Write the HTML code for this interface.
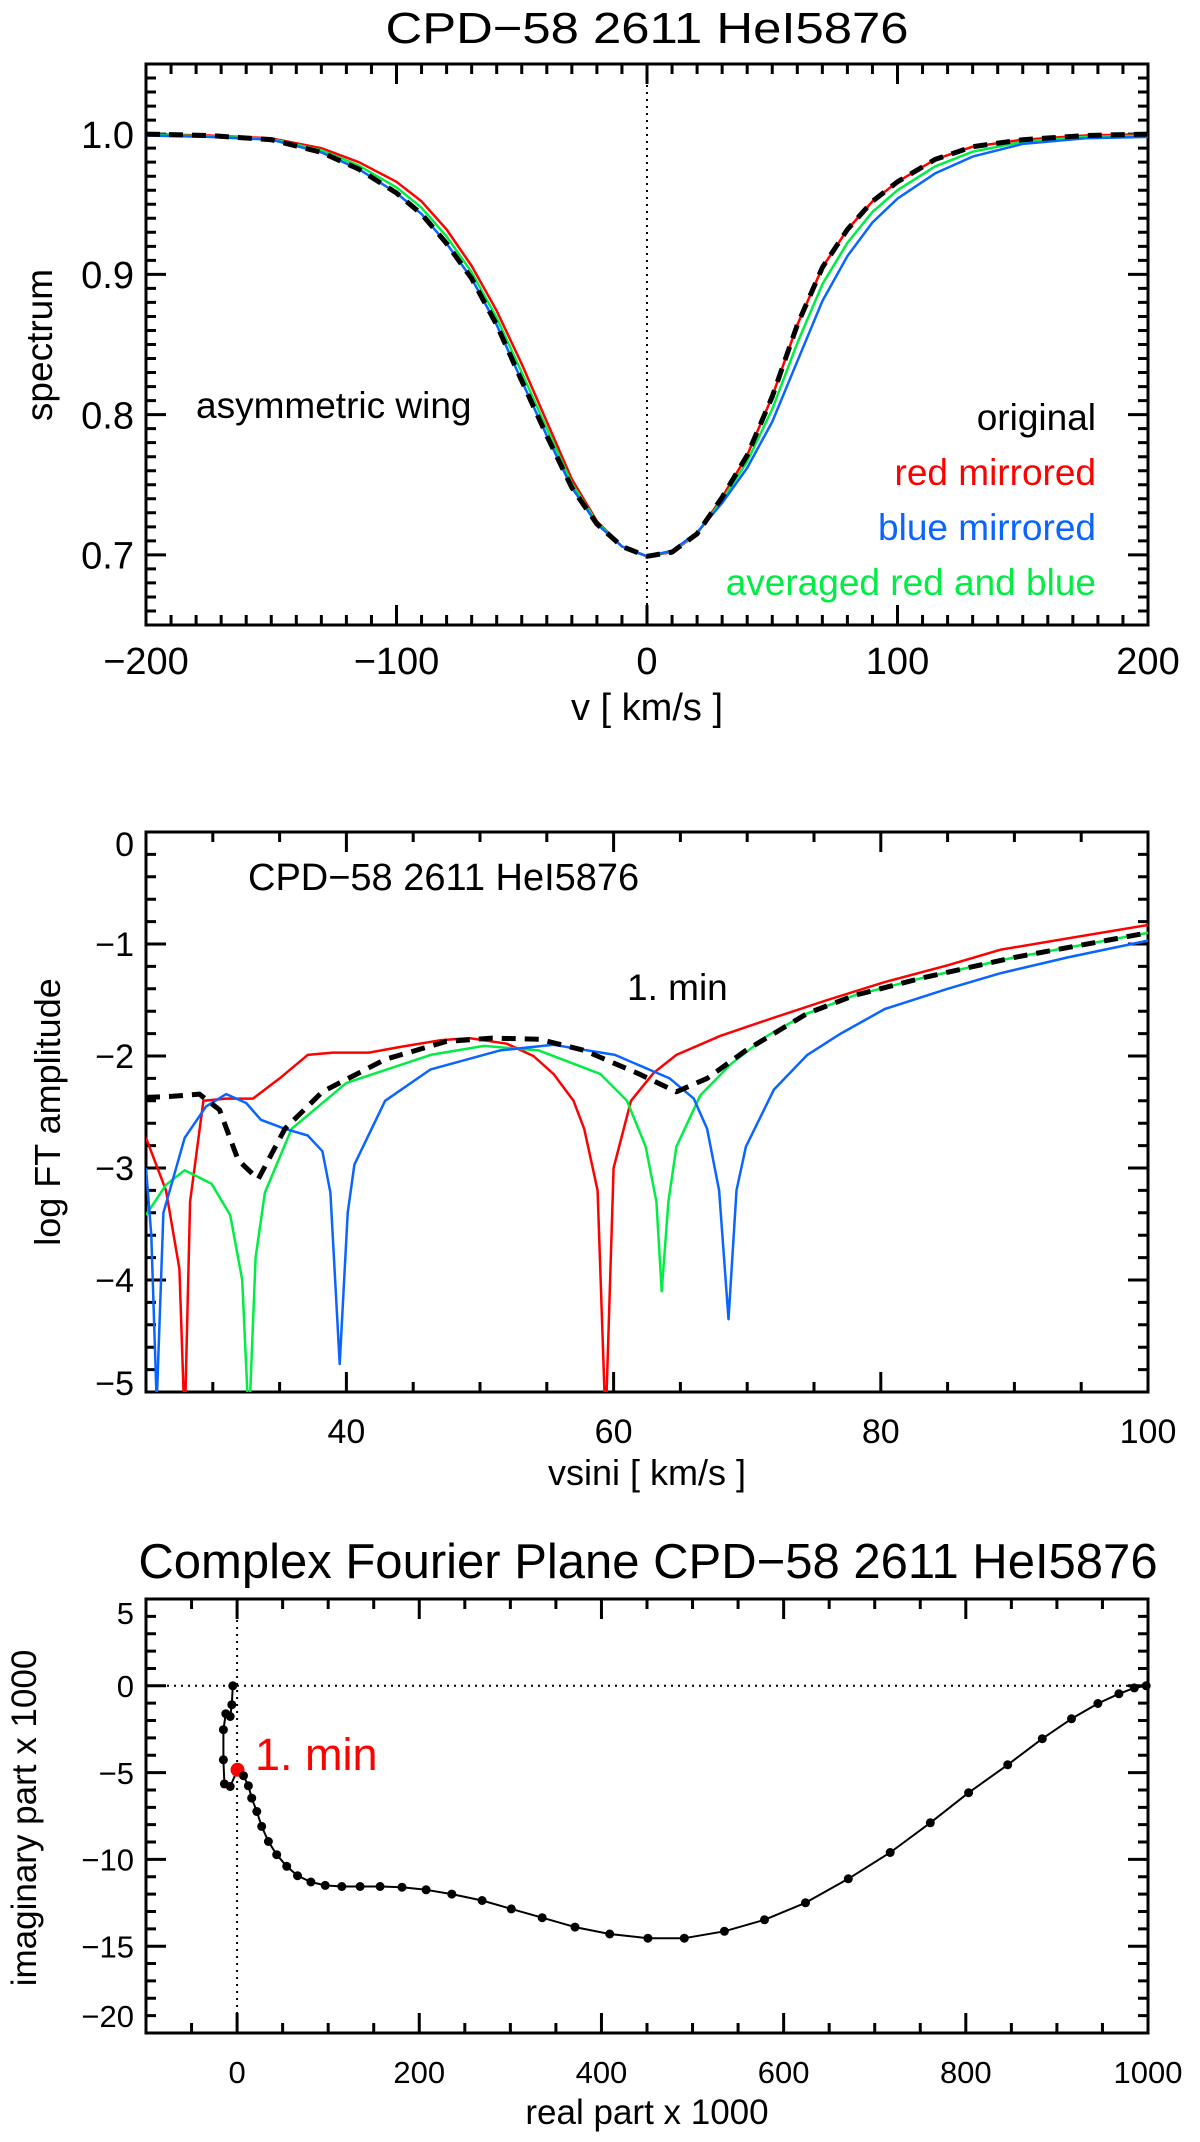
<!DOCTYPE html>
<html><head><meta charset="utf-8"><style>
html,body{margin:0;padding:0;background:#fff;}
svg{display:block;font-family:"Liberation Sans",Arial,sans-serif;}
</style></head><body>
<svg id="fig" width="1200" height="2142" viewBox="0 0 1200 2142" xmlns="http://www.w3.org/2000/svg">
<rect width="1200" height="2142" fill="#fff"/>
</svg>
<script>
// ---- Panel 1 data (spectrum) ----
const p1V = [-200,-175,-150,-130,-115,-100,-90,-80,-70,-60,-50,-40,-30,-20,-10,0,10,20,30,40,50,60,70,80,90,100,115,130,150,175,200];
const p1Original = [1.0,0.999,0.996,0.987,0.975,0.958,0.943,0.922,0.897,0.864,0.824,0.785,0.748,0.722,0.706,0.699,0.702,0.715,0.741,0.771,0.813,0.864,0.905,0.932,0.952,0.966,0.982,0.991,0.996,0.999,1.0];
const p1Red = [1.0,0.999,0.997,0.990,0.980,0.966,0.952,0.932,0.906,0.874,0.836,0.795,0.754,0.724,0.706,0.699,0.702,0.715,0.741,0.771,0.813,0.864,0.905,0.932,0.952,0.966,0.982,0.991,0.996,0.999,1.0];
const p1Blue = [0.999,0.998,0.996,0.987,0.975,0.958,0.943,0.922,0.897,0.864,0.824,0.785,0.748,0.722,0.706,0.699,0.703,0.716,0.737,0.762,0.795,0.838,0.881,0.913,0.937,0.954,0.972,0.984,0.993,0.997,0.998];
const p1Green = [0.9995,0.9985,0.9965,0.9885,0.9775,0.962,0.9475,0.927,0.9015,0.869,0.83,0.79,0.751,0.723,0.706,0.699,0.7025,0.7155,0.739,0.7665,0.804,0.851,0.893,0.9225,0.9445,0.96,0.977,0.9875,0.9945,0.998,0.999];
const p1XTicks = [-200,-100,0,100,200];
const p1XTickLabels = ["\u2212200","\u2212100","0","100","200"];
const p1YTicks = [0.7,0.8,0.9,1.0];
const p1YTickLabels = ["0.7","0.8","0.9","1.0"];

// ---- Panel 2 data (log FT amplitude) ----
const p2RedX = [25,26.5,27.5,27.9,28.3,29.3,31,33,35,37.1,39,41.7,44,47,49.2,52,54,55.5,57,57.8,58.8,59.4,60,61.3,63,64.7,68,71.7,76,80.3,85,89,94,100];
const p2RedY = [-2.73,-3.2,-3.9,-5.3,-3.3,-2.4,-2.38,-2.38,-2.2,-1.99,-1.97,-1.97,-1.92,-1.86,-1.84,-1.89,-2.0,-2.16,-2.4,-2.65,-3.2,-5.3,-3.0,-2.4,-2.15,-1.99,-1.82,-1.67,-1.5,-1.34,-1.19,-1.05,-0.95,-0.83];
const p2BlueX = [25,25.4,25.8,26.3,27.9,29.5,31,32.5,33.6,35.4,37.1,38.2,38.8,39.5,40.1,40.6,42.9,46.3,51.5,55.5,60.1,64.2,66,67,67.9,68.6,69.2,69.9,72,74.5,77,80.3,85,89,94,100];
const p2BlueY = [-3.0,-3.6,-5.1,-3.4,-2.73,-2.45,-2.34,-2.42,-2.57,-2.65,-2.71,-2.85,-3.22,-4.75,-3.4,-2.97,-2.4,-2.12,-1.95,-1.9,-1.99,-2.2,-2.38,-2.65,-3.2,-4.35,-3.2,-2.81,-2.3,-1.99,-1.8,-1.58,-1.4,-1.26,-1.12,-0.97];
const p2GreenX = [25,26.5,27.9,29.9,31.3,32.2,32.7,33.2,33.9,35.9,40,46.3,50.3,54.4,59,61,62.4,63.2,63.6,64.1,64.7,66.5,68.8,71.5,74.5,78,83.2,90,100];
const p2GreenY = [-3.42,-3.15,-3.02,-3.14,-3.42,-4.0,-5.3,-3.8,-3.22,-2.65,-2.24,-1.99,-1.91,-1.95,-2.16,-2.4,-2.81,-3.3,-4.1,-3.3,-2.81,-2.35,-2.07,-1.82,-1.62,-1.46,-1.3,-1.12,-0.9];
const p2OrigX = [25,27,29,30.5,31.9,33.4,35.4,38.2,42.9,47.5,50.9,54.4,57.8,61.9,64.7,67,69.9,74.5,78,83.2,90,100];
const p2OrigY = [-2.37,-2.36,-2.34,-2.48,-2.93,-3.1,-2.65,-2.32,-2.03,-1.87,-1.84,-1.85,-1.95,-2.16,-2.32,-2.2,-1.95,-1.62,-1.46,-1.3,-1.12,-0.9];
const p2XTicks = [40,60,80,100];
const p2XTickLabels = ["40","60","80","100"];
const p2YTicks = [0,-1,-2,-3,-4,-5];
const p2YTickLabels = ["0","\u22121","\u22122","\u22123","\u22124","\u22125"];

// ---- Panel 3 data (complex Fourier plane) ----
const p3Re = [-4.7,-5.8,-7.6,-12.4,-15,-15,-13.9,-7.6,0.4,7,12.4,16,21.6,27,34.4,43.5,54.5,66.3,81,96.7,115,135,157,181,207.5,235.7,269,301,335,371,409,451,491,535,579,624,671,717,761,803,846,884,916,945,968,985,998];
const p3Im = [0,-1.09,-1.77,-1.61,-2.53,-4.26,-5.65,-5.8,-4.84,-5.18,-5.76,-6.47,-7.24,-8.1,-8.97,-9.73,-10.4,-10.94,-11.3,-11.5,-11.56,-11.56,-11.56,-11.6,-11.75,-12.0,-12.37,-12.85,-13.36,-13.9,-14.3,-14.54,-14.54,-14.14,-13.48,-12.5,-11.12,-9.6,-7.89,-6.16,-4.55,-3.05,-1.9,-1.02,-0.46,-0.12,0];
const p3MinIndex = [8];
const p3XTicks = [0,200,400,600,800,1000];
const p3XTickLabels = ["0","200","400","600","800","1000"];
const p3YTicks = [5,0,-5,-10,-15,-20];
const p3YTickLabels = ["5","0","\u22125","\u221210","\u221215","\u221220"];

const NS = "http://www.w3.org/2000/svg";
const svg = document.getElementById('fig');
function mk(tag, attrs, parent){
  const e = document.createElementNS(NS, tag);
  for (const k in attrs) e.setAttribute(k, attrs[k]);
  (parent||svg).appendChild(e);
  return e;
}
function txt(s, attrs, parent){ const e = mk('text', attrs, parent); e.textContent = s; return e; }

function axis(cfg){
  const g = mk('g', {});
  
  
  const {L,R,T,B,x0,x1,y0,y1} = cfg;
  const sx = v => L + (v-x0)/(x1-x0)*(R-L);
  const sy = v => B - (v-y0)/(y1-y0)*(B-T);
  const tl = cfg.tickLen, ml = cfg.minorLen;
  let d = '';
  for (let v = x0; v <= x1+1e-9; v += cfg.xMinor){ const x = sx(v); d += `M${x} ${B}V${B-ml}M${x} ${T}V${T+ml}`; }
  for (let v = y0; v <= y1+1e-9; v += cfg.yMinor){ const y = sy(v); d += `M${L} ${y}H${L+ml}M${R} ${y}H${R-ml}`; }
  cfg.xTicks.forEach(v=>{ const x = sx(v); d += `M${x} ${B}V${B-tl}M${x} ${T}V${T+tl}`; });
  cfg.yTicks.forEach(v=>{ const y = sy(v); d += `M${L} ${y}H${L+tl}M${R} ${y}H${R-tl}`; });
  const tk = mk('path', {d, stroke:'#000','stroke-width':3, fill:'none'}, g);
  
  
  cfg.xTicks.forEach((v,i)=>{
    const t = txt(cfg.xLabels[i], {x:sx(v), y:cfg.xLabelY, 'font-size':cfg.fs, 'text-anchor':'middle'}, g);
    
    
  });
  cfg.yTicks.forEach((v,i)=>{
    let y = sy(v) + cfg.fs*0.36;
    if (cfg.yShift && cfg.yShift[i]) y += cfg.yShift[i];
    const t = txt(cfg.yLabels[i], {x:L-12, y:y, 'font-size':cfg.fs, 'text-anchor':'end'}, g);
    
    
  });
  const fr = mk('rect', {x:L, y:T, width:R-L, height:B-T, fill:'none', stroke:'#000','stroke-width':3}, g);
  
  
  return {sx, sy, g};
}
function line(ax, xs, ys, color, w, dash, name){
  const pts = xs.map((x,i)=>`${ax.sx(x).toFixed(1)},${ax.sy(ys[i]).toFixed(1)}`).join(' ');
  const p = mk('polyline', {points:pts, fill:'none', stroke:color, 'stroke-width':w, 'stroke-linejoin':'round'}, ax.g);
  if (dash) p.setAttribute('stroke-dasharray', dash);
  
  
  return p;
}

// ===== Panel 1 =====
const a1 = axis({name:'spectrum-panel', L:146,R:1148,T:64,B:625,x0:-200,x1:200,y0:0.65,y1:1.05,
  xMinor:10,yMinor:0.01,tickLen:20,minorLen:10,xTicks:p1XTicks,xLabels:p1XTickLabels,yTicks:p1YTicks,yLabels:p1YTickLabels,xLabelY:674,fs:38});
const zl = mk('line',{x1:a1.sx(0),x2:a1.sx(0),y1:64,y2:625,stroke:'#000','stroke-width':2,'stroke-dasharray':'2,5'},a1.g);


line(a1, p1V, p1Red, '#ff0000', 2.5, null, 'red-mirrored-line');
line(a1, p1V, p1Green, '#00ee44', 2.5, null, 'averaged-line');
line(a1, p1V, p1Blue, '#0a64ff', 2.5, null, 'blue-mirrored-line');
line(a1, p1V, p1Original, '#000', 5, '14,9', 'original-line');
let t;
t = txt('CPD\u221258 2611 HeI5876',{x:647,y:43,'font-size':44,'text-anchor':'middle',textLength:523,lengthAdjust:'spacingAndGlyphs'});


t = txt('v  [ km/s ]',{x:647,y:720,'font-size':38,'text-anchor':'middle'});


t = txt('spectrum',{x:0,y:0,'font-size':37,'text-anchor':'middle',transform:'translate(52,345) rotate(-90)'});


t = txt('asymmetric wing',{x:196,y:418,'font-size':37});


const legItems = [['original','#000',430],['red mirrored','#ff0000',485],['blue mirrored','#0a64ff',540],['averaged red and blue','#00ee44',595]];
legItems.forEach(li=>{
  const e = txt(li[0],{x:1096,y:li[2],'font-size':37,'text-anchor':'end',fill:li[1]});
  
  
});

// ===== Panel 2 =====
const a2 = axis({name:'fourier-amplitude-panel', L:146,R:1148,T:832,B:1392,x0:25,x1:100,y0:-5,y1:0,
  xMinor:5,yMinor:0.2,tickLen:20,minorLen:10,xTicks:p2XTicks,xLabels:p2XTickLabels,yTicks:p2YTicks,yLabels:p2YTickLabels,xLabelY:1443,fs:34,yShift:[12,0,0,0,0,-9]});
const cp = mk('clipPath',{id:'c2'}); mk('rect',{x:146,y:832,width:1002,height:560},cp);
const g2 = mk('g',{'clip-path':'url(#c2)'},a2.g);


const a2c = {sx:a2.sx, sy:a2.sy, g:g2};
line(a2c, p2RedX, p2RedY, '#ff0000', 2.5, null, 'red-mirrored-ft');
line(a2c, p2GreenX, p2GreenY, '#00ee44', 2.5, null, 'averaged-ft');
line(a2c, p2BlueX, p2BlueY, '#0a64ff', 2.5, null, 'blue-mirrored-ft');
line(a2c, p2OrigX, p2OrigY, '#000', 5, '14,9', 'original-ft');
t = txt('CPD\u221258 2611 HeI5876',{x:248,y:890,'font-size':38});


t = txt('1. min',{x:627,y:1000,'font-size':37});


t = txt('vsini  [ km/s ]',{x:647,y:1485,'font-size':36,'text-anchor':'middle'});


t = txt('log FT amplitude',{x:0,y:0,'font-size':36,'text-anchor':'middle',transform:'translate(60,1112) rotate(-90)'});



// ===== Panel 3 =====
const a3 = axis({name:'complex-plane-panel', L:146,R:1148,T:1599,B:2033,x0:-100,x1:1000,y0:-20,y1:5,
  xMinor:50,yMinor:1,tickLen:20,minorLen:10,xTicks:p3XTicks,xLabels:p3XTickLabels,yTicks:p3YTicks,yLabels:p3YTickLabels,xLabelY:2083,fs:31,yShift:[14,0,0,0,0,-17]});
const z1 = mk('line',{x1:a3.sx(0),x2:a3.sx(0),y1:1599,y2:2033,stroke:'#000','stroke-width':2,'stroke-dasharray':'2,5'},a3.g);


const z2 = mk('line',{x1:146,x2:1148,y1:a3.sy(0),y2:a3.sy(0),stroke:'#000','stroke-width':2,'stroke-dasharray':'2,5'},a3.g);


line(a3, p3Re, p3Im, '#000', 2, null, 'fourier-track-line');
p3Re.forEach((r,i)=>{
  const isMin = p3MinIndex.indexOf(i) >= 0;
  const c = mk('circle',{cx:a3.sx(r).toFixed(1), cy:a3.sy(p3Im[i]).toFixed(1), r:isMin?7:4.5, fill:isMin?'#ff0000':'#000'},a3.g);
  
  
});
t = txt('1. min',{x:255,y:1770,'font-size':45,fill:'#ff0000'});


t = txt('Complex Fourier Plane CPD\u221258 2611 HeI5876',{x:648,y:1578,'font-size':49,'text-anchor':'middle'});


t = txt('real part  x  1000',{x:647,y:2124,'font-size':35,'text-anchor':'middle'});


t = txt('imaginary part  x  1000',{x:0,y:0,'font-size':35,'text-anchor':'middle',transform:'translate(36,1818) rotate(-90)'});


</script>
</body></html>
